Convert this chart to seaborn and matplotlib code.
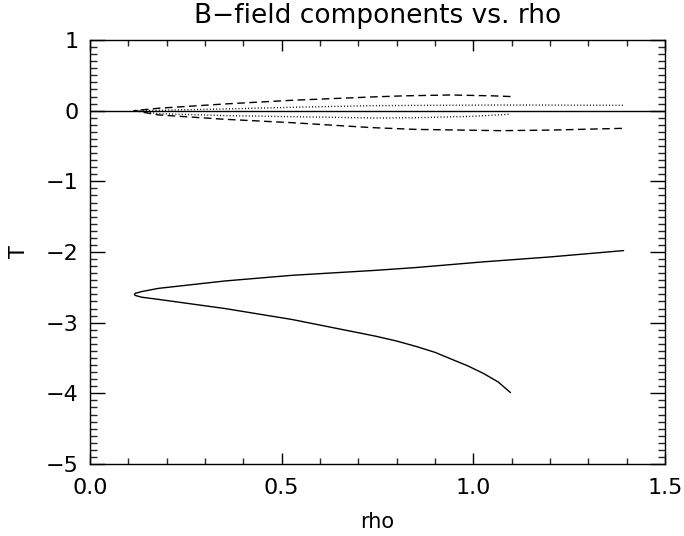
import numpy as np
import pandas as pd
import matplotlib
matplotlib.use("Agg")
import matplotlib.pyplot as plt
import seaborn as sns
from matplotlib.ticker import MultipleLocator, FormatStrFormatter

sns.set_theme(style="ticks")
plt.rcParams['font.family'] = ['DejaVu Sans']

# Solid component (loop through rho_min)
solid_rho = [1.392, 1.2, 1.025, 0.85, 0.744, 0.527, 0.352, 0.178, 0.135, 0.118, 0.116,
             0.118, 0.135, 0.178, 0.352, 0.527, 0.744, 0.80, 0.853, 0.90, 0.94, 0.985,
             1.027, 1.065, 1.097]
solid_val = [-1.98, -2.07, -2.14, -2.22, -2.26, -2.33, -2.41, -2.515, -2.56, -2.585, -2.60,
             -2.615, -2.64, -2.67, -2.80, -2.955, -3.19, -3.26, -3.34, -3.42, -3.51, -3.61,
             -3.72, -3.84, -3.99]

# Dashed component
dash_rho = [1.097, 1.05, 0.94, 0.82, 0.735, 0.527, 0.352, 0.178, 0.115,
            0.178, 0.352, 0.527, 0.735, 0.85, 1.07, 1.2, 1.39]
dash_val = [0.20, 0.21, 0.222, 0.21, 0.194, 0.147, 0.095, 0.034, 0.0,
            -0.06, -0.122, -0.17, -0.24, -0.265, -0.283, -0.275, -0.25]

# Dotted component
dot_rho = [1.39, 1.1, 0.9, 0.74, 0.527, 0.352, 0.178, 0.115,
           0.178, 0.352, 0.527, 0.74, 0.85, 1.0, 1.097]
dot_val = [0.076, 0.08, 0.076, 0.071, 0.048, 0.024, 0.005, 0.0,
           -0.042, -0.07, -0.085, -0.103, -0.10, -0.08, -0.05]

zero_rho = [0.0, 1.5]
zero_val = [0.0, 0.0]

fig = plt.figure(figsize=(6.84, 5.36), dpi=100)
ax = fig.add_axes([90/684, 1-464/536, 575/684, 424/536])

sns.lineplot(x=zero_rho, y=zero_val, ax=ax, color='black', lw=1.0, sort=False, estimator=None)
sns.lineplot(x=solid_rho, y=solid_val, ax=ax, color='black', lw=1.0, sort=False, estimator=None)
sns.lineplot(x=dash_rho, y=dash_val, ax=ax, color='black', lw=1.0, sort=False, estimator=None)
ax.lines[-1].set_dashes([5.5, 3.2])
sns.lineplot(x=dot_rho, y=dot_val, ax=ax, color='black', lw=1.0, sort=False, estimator=None)
ax.lines[-1].set_dashes([0.7, 1.6])

ax.set_xlim(0, 1.5)
ax.set_ylim(-5.0, 1.0)
ax.xaxis.set_major_locator(MultipleLocator(0.5))
ax.xaxis.set_minor_locator(MultipleLocator(0.1))
ax.yaxis.set_major_locator(MultipleLocator(1))
ax.yaxis.set_minor_locator(MultipleLocator(0.1))
ax.xaxis.set_major_formatter(FormatStrFormatter('%.1f'))

for s in ax.spines.values():
    s.set_linewidth(1.0)
    s.set_color('black')
    s.set_visible(True)

ax.tick_params(axis='x', which='major', direction='in', length=8, width=1, top=True, bottom=True,
               labelsize=16, pad=10, colors='black')
ax.tick_params(axis='x', which='minor', direction='in', length=4, width=1, top=True, bottom=True)
ax.tick_params(axis='y', which='major', direction='in', length=11, width=1, left=True, right=True,
               labelsize=16, pad=8, colors='black')
ax.tick_params(axis='y', which='minor', direction='in', length=5, width=1, left=True, right=True)

ax.set_title('B\u2212field components vs. rho', fontsize=19, pad=12, color='black')
ax.set_xlabel('rho', fontsize=15, labelpad=10, color='black')
ax.set_ylabel('T', fontsize=15, color='black')
ax.yaxis.set_label_coords(-0.106, 0.5)
ax.set_facecolor('white')
fig.patch.set_facecolor('white')

fig.savefig('out.png', dpi=100)
